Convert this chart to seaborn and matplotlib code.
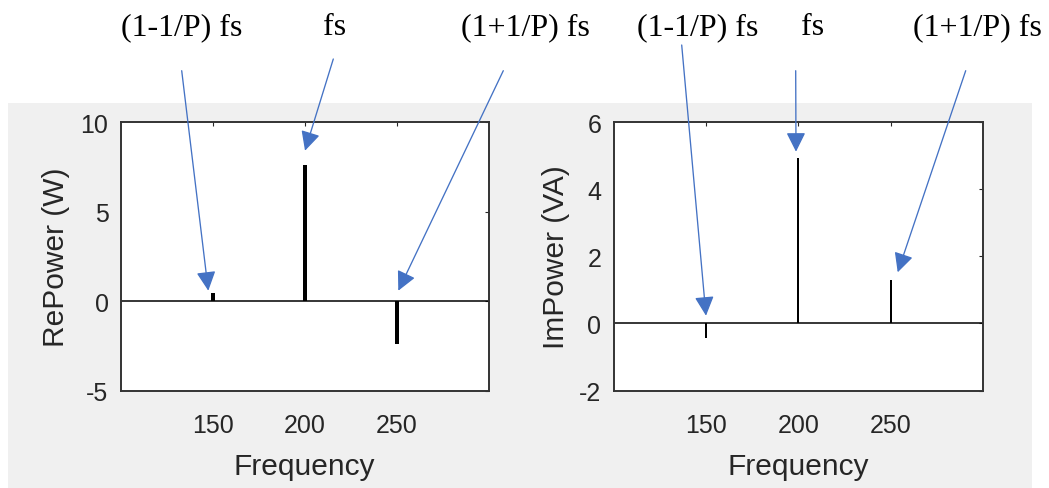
import matplotlib
matplotlib.use("Agg")
import matplotlib.pyplot as plt
import seaborn as sns
import pandas as pd
from matplotlib.patches import Rectangle, FancyArrowPatch, ArrowStyle

# ---- data ----
frequency = [150, 200, 250]
re_power = [0.45, 7.6, -2.4]
im_power = [-0.42, 4.95, 1.3]
x_ticks = [150, 200, 250]
re_yticks = [-5, 0, 5, 10]
im_yticks = [-2, 0, 2, 4, 6]
ann_labels = ["(1-1/P) fs", "fs", "(1+1/P) fs"]

sns.set_theme(style="white")
plt.rcParams["font.family"] = ["Liberation Sans", "DejaVu Sans"]

W, H = 1049, 489
fig = plt.figure(figsize=(W / 100, H / 100), dpi=100)
fig.patch.set_facecolor("white")

def fx(px):
    return px / W

def fy(py):
    return (H - py) / H

# gray MATLAB figure panel
fig.add_artist(Rectangle((fx(8), fy(489)), fx(1032) - fx(8), fy(103.5) - fy(489),
                         transform=fig.transFigure, facecolor="#f0f0f0",
                         edgecolor="none", zorder=-5))

ax_top, ax_bot = 123.3, 391.5
axL = fig.add_axes([fx(121), fy(ax_bot), fx(488.5) - fx(121), fy(ax_top) - fy(ax_bot)])
axR = fig.add_axes([fx(614), fy(ax_bot), fx(982.7) - fx(614), fy(ax_top) - fy(ax_bot)])

ink = "#262626"
dfL = pd.DataFrame({"Frequency": frequency, "Power": re_power})
dfR = pd.DataFrame({"Frequency": frequency, "Power": im_power})

sns.barplot(data=dfL, x="Frequency", y="Power", native_scale=True, width=0.044,
            color="black", saturation=1, linewidth=0, errorbar=None, ax=axL)
sns.barplot(data=dfR, x="Frequency", y="Power", native_scale=True, width=0.022,
            color="black", saturation=1, linewidth=0, errorbar=None, ax=axR)

for ax, yt, ylim, ylab, ylx in [
    (axL, re_yticks, (-5, 10), "RePower (W)", -0.1774),
    (axR, im_yticks, (-2, 6), "ImPower (VA)", -0.156),
]:
    ax.set_facecolor("white")
    ax.axhline(0, color="black", lw=1.1, zorder=1)
    ax.set_xlim(100, 300)
    ax.set_ylim(*ylim)
    ax.set_xticks(x_ticks)
    ax.set_yticks(yt)
    ax.set_xticklabels([str(v) for v in x_ticks])
    ax.set_yticklabels([str(v) for v in yt])
    ax.tick_params(axis="both", direction="in", top=True, right=True,
                   length=3, width=0.8, color=ink, labelcolor=ink, labelsize=18)
    ax.tick_params(axis="x", pad=16)
    ax.tick_params(axis="y", pad=9)
    for s in ax.spines.values():
        s.set_visible(True)
        s.set_color("#333333")
        s.set_linewidth(1.4)
    ax.set_xlabel("Frequency", fontsize=21.5, color=ink)
    ax.set_ylabel(ylab, fontsize=21.5, color=ink, va="center")
    ax.xaxis.set_label_coords(0.5, -0.2304)
    ax.yaxis.set_label_coords(ylx, 0.5)

# ---- annotations ----
text_x = [181.5, 335, 525.3, 698, 812.5, 977]
labels6 = ann_labels + ann_labels
for tx, lab in zip(text_x, labels6):
    fig.text(fx(tx), fy(35), lab, ha="center", va="baseline",
             fontsize=23, color="black", family=["Liberation Serif", "DejaVu Serif"])

arrow_start = [(181.7, 71.7), (333.3, 60), (503.3, 71.7),
               (681.7, 46), (795.7, 71.7), (965.7, 71.7)]
arrow_end = [(208.3, 291.7), (305, 151.7), (398.3, 291.7),
             (706, 316.7), (796, 152.7), (897.7, 273.3)]
blue = "#4472C4"
style = ArrowStyle("-|>", head_length=11.8, head_width=5.9)
for (x0, y0), (x1, y1) in zip(arrow_start, arrow_end):
    fig.add_artist(FancyArrowPatch((fx(x0), fy(y0)), (fx(x1), fy(y1)),
                                   transform=fig.transFigure, arrowstyle=style,
                                   mutation_scale=1, color=blue, lw=0.95,
                                   shrinkA=0, shrinkB=0, zorder=5))

fig.savefig("out.png", dpi=100)
